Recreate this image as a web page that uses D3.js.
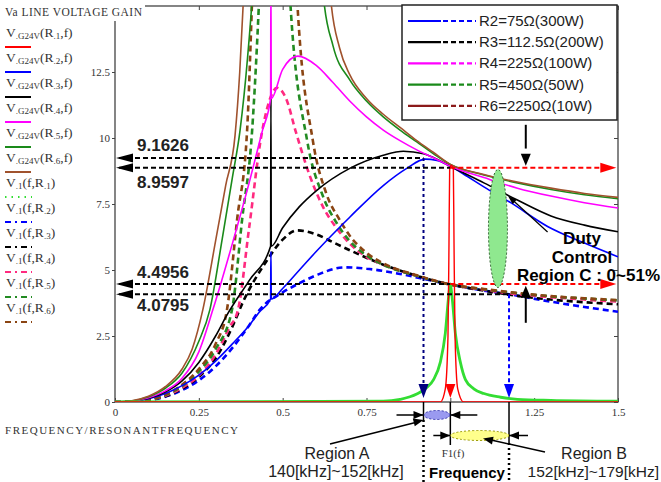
<!DOCTYPE html>
<html>
<head>
<meta charset="utf-8">
<script src="https://cdn.jsdelivr.net/npm/d3@7"></script>
<style>
body { margin: 0; background: #fff; }
svg { display: block; }
</style>
</head>
<body>
<script>
// gain curves: [f / f0, gain]
// solid = V.G24V(R,f), dashed = V.1(f,R)
var r1Solid = [[0,0],[0.97,0],[0.985,0.5],[0.993,2.5],[0.996,6],[0.998,8.8],[1.003,8.96],[1.009,8.8],[1.011,6],[1.014,2.5],[1.022,0.5],[1.04,0],[1.5,0]];
var r1Dashed = [[0,0],[0.8,0.03],[0.85,0.1],[0.9,0.3],[0.93,0.55],[0.95,0.85],[0.97,1.5],[0.985,2.6],[0.995,4.0],[1.0,4.47],[1.005,4.0],[1.015,2.6],[1.03,1.5],[1.045,0.85],[1.07,0.5],[1.1,0.32],[1.15,0.18],[1.2,0.1],[1.3,0.06],[1.5,0.03]];

var r2Solid = [[0,0],[0.05,0.02],[0.1,0.12],[0.15,0.32],[0.2,0.62],[0.25,1.02],[0.3,1.55],[0.35,2.2],[0.4,2.9],[0.43,3.4],[0.464,3.9],[0.465,5.7],[0.466,3.9],[0.5,4.3],[0.55,5.0],[0.6,5.7],[0.7,7.0],[0.8,8.2],[0.87,8.85],[0.925,9.2],[0.96,9.15],[1.0,8.93],[1.05,8.55],[1.1,8.15],[1.18,7.55],[1.29,6.65],[1.4,6.02],[1.5,5.5]];
var r3Solid = [[0,0],[0.05,0.02],[0.1,0.14],[0.15,0.38],[0.2,0.8],[0.25,1.5],[0.3,2.5],[0.334,3.3],[0.4,4.6],[0.464,5.9],[0.465,11.5],[0.466,5.9],[0.5,6.6],[0.55,7.4],[0.6,8.0],[0.7,8.85],[0.8,9.35],[0.86,9.5],[0.92,9.4],[0.96,9.2],[1.0,8.93],[1.1,8.3],[1.2,7.65],[1.3,7.05],[1.4,6.7],[1.5,6.45]];
var r4Solid = [[0,0],[0.05,0.03],[0.1,0.16],[0.15,0.42],[0.2,0.9],[0.25,1.9],[0.292,3.5],[0.35,6.0],[0.4,8.3],[0.44,10.3],[0.464,11.5],[0.465,16],[0.466,11.5],[0.5,12.6],[0.545,13.1],[0.6,12.75],[0.65,12.1],[0.7,11.4],[0.75,10.8],[0.8,10.3],[0.85,9.9],[0.9,9.55],[0.95,9.25],[1.0,8.93],[1.1,8.5],[1.2,8.1],[1.3,7.8],[1.4,7.55],[1.5,7.35]];
var r5Solid = [[0,0],[0.05,0.04],[0.1,0.2],[0.15,0.52],[0.2,1.1],[0.25,2.3],[0.283,3.5],[0.32,6.2],[0.35,8.5],[0.373,10.3],[0.395,13],[0.41,15.5],[0.47,40],[0.57,40],[0.622,15.3],[0.65,13.5],[0.7,12.2],[0.75,11.4],[0.8,10.8],[0.85,10.3],[0.9,9.85],[0.95,9.4],[1.0,9.0],[1.1,8.6],[1.2,8.3],[1.3,8.05],[1.4,7.85],[1.5,7.7]];
var r6Solid = [[0,0],[0.05,0.05],[0.1,0.22],[0.15,0.58],[0.2,1.25],[0.23,2.0],[0.262,3.5],[0.3,6.1],[0.33,8.2],[0.358,10.1],[0.372,12.5],[0.384,15.5],[0.45,40],[0.58,40],[0.643,15.3],[0.67,13.4],[0.7,12.4],[0.75,11.5],[0.8,10.9],[0.85,10.4],[0.9,9.9],[0.95,9.45],[1.0,9.0],[1.1,8.62],[1.2,8.33],[1.3,8.1],[1.4,7.9],[1.5,7.75]];

var r2Dashed = [[0,0],[0.05,0.01],[0.1,0.06],[0.15,0.2],[0.2,0.45],[0.25,0.82],[0.3,1.35],[0.35,2.05],[0.4,2.9],[0.432,3.5],[0.5,4.15],[0.55,4.5],[0.6,4.8],[0.686,5.1],[0.75,5.05],[0.85,4.85],[0.95,4.58],[1.0,4.45],[1.1,4.22],[1.175,4.08],[1.3,3.8],[1.4,3.6],[1.5,3.42]];
var r3Dashed = [[0,0],[0.05,0.01],[0.1,0.07],[0.15,0.22],[0.2,0.5],[0.25,0.95],[0.3,1.65],[0.35,2.85],[0.382,3.8],[0.45,5.3],[0.5,6.15],[0.543,6.5],[0.6,6.35],[0.65,6.05],[0.7,5.75],[0.8,5.2],[0.9,4.78],[1.0,4.45],[1.1,4.22],[1.2,4.02],[1.3,3.88],[1.4,3.78],[1.5,3.7]];
var r4Dashed = [[0,0],[0.05,0.01],[0.1,0.07],[0.15,0.24],[0.2,0.54],[0.25,1.0],[0.3,1.8],[0.34,2.8],[0.367,3.5],[0.4,6.6],[0.438,10.2],[0.46,11.4],[0.483,11.9],[0.51,11.5],[0.54,10.2],[0.58,8.6],[0.62,7.4],[0.66,6.6],[0.7,6.0],[0.75,5.5],[0.8,5.2],[0.9,4.78],[1.0,4.45],[1.1,4.25],[1.2,4.08],[1.3,3.97],[1.4,3.88],[1.5,3.8]];
var r5Dashed = [[0,0],[0.05,0.01],[0.1,0.08],[0.15,0.26],[0.2,0.6],[0.25,1.15],[0.3,2.0],[0.349,3.5],[0.379,6.9],[0.409,10.3],[0.43,15.3],[0.47,30],[0.5,30],[0.522,15.3],[0.573,9.9],[0.62,7.8],[0.66,6.8],[0.7,6.1],[0.75,5.55],[0.8,5.2],[0.9,4.78],[1.0,4.45],[1.1,4.27],[1.2,4.12],[1.3,4.0],[1.4,3.92],[1.5,3.85]];
var r6Dashed = [[0,0],[0.05,0.01],[0.1,0.09],[0.15,0.28],[0.2,0.65],[0.25,1.25],[0.3,2.2],[0.334,3.5],[0.364,6.9],[0.394,10.3],[0.409,15.3],[0.46,40],[0.49,40],[0.543,15.3],[0.59,9.9],[0.63,7.9],[0.67,6.9],[0.7,6.3],[0.75,5.65],[0.8,5.25],[0.9,4.8],[1.0,4.45],[1.1,4.28],[1.2,4.13],[1.3,4.01],[1.4,3.93],[1.5,3.86]];

// tick labels
var xTicks = [0, 0.25, 0.5, 0.75, 1, 1.25, 1.5];
var yTicks = [0, 2.5, 5, 7.5, 10, 12.5];

// legend entries
var loadNames = ["R2=75\u03A9(300W)", "R3=112.5\u03A9(200W)", "R4=225\u03A9(100W)", "R5=450\u03A9(50W)", "R6=2250\u03A9(10W)"];
var loadColors = ["#0000ff", "#000000", "#ff00ff", "#1a8a1a", "#8b1a1a"];

// marked levels (labels, and the level where the picture draws them)
var levelLabels = ["9.1626", "8.9597", "4.4956", "4.0795"];
var levelGain = [9.24, 8.87, 4.47, 4.08];
var fA = 0.92, fRes = 1.0, fB = 1.175, fDuty = 1.225;

var serif = "'Liberation Serif', 'Times New Roman', serif";
var sans = "'Liberation Sans', Arial, sans-serif";

var svg = d3.select("body").append("svg")
  .attr("width", 661)
  .attr("height", 482);
svg.append("rect").attr("width", 661).attr("height", 482).attr("fill", "#fff");

var x = d3.scaleLinear().domain([0, 1.5]).range([115, 618]);
var y = d3.scaleLinear().domain([0, 15]).range([402, 6]);

svg.append("clipPath").attr("id", "plotclip").append("rect")
  .attr("x", x(0)).attr("y", y(15))
  .attr("width", x(1.5) - x(0)).attr("height", y(0) - y(15));

// frame
svg.append("rect")
  .attr("x", x(0)).attr("y", y(15))
  .attr("width", x(1.5) - x(0)).attr("height", y(0) - y(15))
  .attr("fill", "none").attr("stroke", "#444").attr("stroke-width", 1.3);

// axes
svg.append("g").attr("transform", "translate(0," + y(0) + ")")
  .call(d3.axisBottom(x).tickValues(xTicks).tickSize(-4).tickPadding(6)
    .tickFormat(function(d) { return d === 1 ? "" : String(d); }));
svg.append("g").attr("transform", "translate(" + x(0) + ",0)")
  .call(d3.axisLeft(y).tickValues(yTicks).tickSize(3).tickPadding(2)
    .tickFormat(function(d) { return String(d); }));
svg.append("g").attr("transform", "translate(0," + y(15) + ")")
  .call(d3.axisTop(x).tickValues(xTicks).tickSize(-4).tickFormat(""));
svg.append("g").attr("transform", "translate(" + x(1.5) + ",0)")
  .call(d3.axisRight(y).tickValues(yTicks).tickSize(-4).tickFormat(""));
svg.selectAll(".domain").remove();
svg.selectAll(".tick line").attr("stroke", "#444");
svg.selectAll(".tick text").attr("font-family", serif).attr("font-size", 11).attr("fill", "#333");

// curves
var line = d3.line()
  .x(function(d) { return x(d[0]); })
  .y(function(d) { return y(d[1]); })
  .curve(d3.curveMonotoneX);

var plot = svg.append("g").attr("clip-path", "url(#plotclip)");

var series = [
  {data: r2Dashed, color: "#0000ff", w: 2.6, dash: "6,4"},
  {data: r3Dashed, color: "#000000", w: 2.6, dash: "6,4"},
  {data: r4Dashed, color: "#ff2a7f", w: 2.6, dash: "6,4"},
  {data: r5Dashed, color: "#228b22", w: 2.6, dash: "6,4"},
  {data: r6Dashed, color: "#8b4513", w: 2.6, dash: "6,4"},
  {data: r2Solid, color: "#0000ff", w: 1.6},
  {data: r3Solid, color: "#000000", w: 1.6},
  {data: r4Solid, color: "#ff00ff", w: 1.6},
  {data: r5Solid, color: "#1a8a1a", w: 1.6},
  {data: r6Solid, color: "#a0522d", w: 1.6},
  {data: r1Dashed, color: "#33dd33", w: 2.8},
  {data: r1Solid, color: "#ff0000", w: 1.4}
];

plot.selectAll("path.curve")
  .data(series)
  .enter()
  .append("path")
  .attr("class", "curve")
  .attr("d", function(d) { return line(d.data); })
  .attr("fill", "none")
  .attr("stroke", function(d) { return d.color; })
  .attr("stroke-width", function(d) { return d.w; })
  .attr("stroke-dasharray", function(d) { return d.dash || null; });

// arrow head helper
function head(g, tx, ty, dir, color, len, half) {
  len = len || 12; half = half || 5;
  var p;
  if (dir == "left") p = [[tx, ty], [tx + len, ty - half], [tx + len, ty + half]];
  if (dir == "right") p = [[tx, ty], [tx - len, ty - half], [tx - len, ty + half]];
  if (dir == "down") p = [[tx, ty], [tx - half, ty - len], [tx + half, ty - len]];
  if (dir == "up") p = [[tx, ty], [tx - half, ty + len], [tx + half, ty + len]];
  return g.append("path").attr("d", "M" + p.join("L") + "Z").attr("fill", color);
}

var ann = svg.append("g");

// horizontal level lines
var levelEnd = [fA, fRes, fRes, fB];
levelGain.forEach(function(v, i) {
  ann.append("line")
    .attr("x1", x(0) + 4).attr("x2", x(levelEnd[i]))
    .attr("y1", y(v)).attr("y2", y(v))
    .attr("stroke", "#000").attr("stroke-width", 2).attr("stroke-dasharray", "5,3");
  head(ann, x(0) + 1, y(v), "left", "#000", 17, 4.5);
});
[1, 2].forEach(function(i) {
  ann.append("line")
    .attr("x1", x(fRes)).attr("x2", x(1.45))
    .attr("y1", y(levelGain[i])).attr("y2", y(levelGain[i]))
    .attr("stroke", "#ff0000").attr("stroke-width", 2).attr("stroke-dasharray", "5,3");
  head(ann, x(1.495), y(levelGain[i]), "right", "#ff0000", 16, 5);
});
var labelDy = [-7, 20, -6, 17];
levelLabels.forEach(function(t, i) {
  ann.append("text")
    .attr("x", 137).attr("y", y(levelGain[i]) + labelDy[i])
    .attr("font-family", sans).attr("font-weight", "bold").attr("font-size", 17)
    .attr("fill", "#222").text(t);
});

// vertical frequency markers
ann.append("line")
  .attr("x1", x(fA)).attr("x2", x(fA)).attr("y1", y(levelGain[0])).attr("y2", y(0.6))
  .attr("stroke", "#000080").attr("stroke-width", 2).attr("stroke-dasharray", "3,3");
head(ann, x(fA), y(0.15), "down", "#000080", 14, 5);
head(ann, x(fRes), y(0.15), "down", "#ff0000", 14, 5);
ann.append("line")
  .attr("x1", x(fB)).attr("x2", x(fB)).attr("y1", y(levelGain[3])).attr("y2", y(0.6))
  .attr("stroke", "#0000ff").attr("stroke-width", 2).attr("stroke-dasharray", "4,3");
head(ann, x(fB), y(0.15), "down", "#0000ff", 14, 5);

// duty control arrows
ann.append("line").attr("x1", x(fDuty)).attr("x2", x(fDuty))
  .attr("y1", y(10.5)).attr("y2", y(9.6)).attr("stroke", "#000").attr("stroke-width", 2);
head(ann, x(fDuty), y(8.95), "down", "#000", 12, 5);
ann.append("line").attr("x1", x(fDuty)).attr("x2", x(fDuty))
  .attr("y1", y(3.0)).attr("y2", y(4.0)).attr("stroke", "#000").attr("stroke-width", 2);
head(ann, x(fDuty), y(4.4), "up", "#000", 12, 5);

// duty region ellipse
ann.append("ellipse")
  .attr("cx", x(1.142)).attr("cy", y(6.57)).attr("rx", 9.5).attr("ry", 59)
  .attr("fill", "#8fe88f").attr("stroke", "#225522").attr("stroke-width", 1)
  .attr("stroke-dasharray", "2,2");
ann.append("line")
  .attr("x1", x(1.29)).attr("y1", y(6.44)).attr("x2", x(1.18)).attr("y2", y(7.72))
  .attr("stroke", "#000").attr("stroke-width", 1.2);
head(ann, x(1.172), y(7.8), "left", "#000", 9, 3)
  .attr("transform", "rotate(42," + x(1.172) + "," + y(7.8) + ")");

ann.append("text").attr("x", 582).attr("y", 244).attr("text-anchor", "middle")
  .attr("font-family", sans).attr("font-weight", "bold").attr("font-size", 17).text("Duty");
ann.append("text").attr("x", 582).attr("y", 263).attr("text-anchor", "middle")
  .attr("font-family", sans).attr("font-weight", "bold").attr("font-size", 17).text("Control");
ann.append("text").attr("x", 660).attr("y", 281).attr("text-anchor", "end")
  .attr("font-family", sans).attr("font-weight", "bold").attr("font-size", 17).text("Region C : 0~51%");

// below the axis: frequency regions
var base = y(0);
ann.append("line").attr("x1", x(fA)).attr("x2", x(fA)).attr("y1", base).attr("y2", base + 18)
  .attr("stroke", "#000").attr("stroke-width", 1.5);
ann.append("line").attr("x1", x(fA)).attr("x2", x(fA)).attr("y1", base + 18).attr("y2", 482)
  .attr("stroke", "#000").attr("stroke-width", 2.5).attr("stroke-dasharray", "2,3");
ann.append("line").attr("x1", x(fRes)).attr("x2", x(fRes)).attr("y1", base).attr("y2", base + 43)
  .attr("stroke", "#000").attr("stroke-width", 1.5);
ann.append("line").attr("x1", x(fB)).attr("x2", x(fB)).attr("y1", base).attr("y2", base + 41)
  .attr("stroke", "#000").attr("stroke-width", 1.5);
ann.append("line").attr("x1", x(fB)).attr("x2", x(fB)).attr("y1", base + 41).attr("y2", 482)
  .attr("stroke", "#000").attr("stroke-width", 2.5).attr("stroke-dasharray", "2,3");

ann.append("ellipse")
  .attr("cx", (x(fA) + x(fRes)) / 2).attr("cy", base + 13).attr("rx", 13).attr("ry", 4.5)
  .attr("fill", "#9a9af0").attr("stroke", "#3333aa").attr("stroke-dasharray", "2,2");
ann.append("ellipse")
  .attr("cx", (x(fRes) + x(fB)) / 2).attr("cy", base + 33.5).attr("rx", (x(fB) - x(fRes)) / 2).attr("ry", 5)
  .attr("fill", "#ffff8c").attr("stroke", "#999900").attr("stroke-dasharray", "2,2");

function hArrow(x1, x2, yy) {
  ann.append("line").attr("x1", x1).attr("x2", x2).attr("y1", yy).attr("y2", yy)
    .attr("stroke", "#000").attr("stroke-width", 1.5);
  head(ann, x2, yy, x2 > x1 ? "right" : "left", "#000", 10, 4);
}
hArrow(x(fA) - 27, x(fA), base + 13);
hArrow(x(fRes) + 27, x(fRes), base + 13);
hArrow(x(fRes) - 17, x(fRes), base + 33.5);
hArrow(x(fB) + 19, x(fB), base + 33.5);

// pointers from region labels
ann.append("line").attr("x1", 330).attr("y1", base + 42).attr("x2", x(fA) - 6).attr("y2", base + 20)
  .attr("stroke", "#000").attr("stroke-width", 1.5);
head(ann, x(fA), base + 18, "right", "#000", 10, 4)
  .attr("transform", "rotate(-14," + x(fA) + "," + (base + 18) + ")");
ann.append("line").attr("x1", 545).attr("y1", base + 50).attr("x2", 491).attr("y2", base + 38)
  .attr("stroke", "#000").attr("stroke-width", 1.5);
head(ann, 483, base + 36.5, "left", "#000", 10, 4)
  .attr("transform", "rotate(12,483," + (base + 36.5) + ")");

ann.append("text").attr("x", 337).attr("y", 459).attr("text-anchor", "middle")
  .attr("font-family", sans).attr("font-size", 16).attr("fill", "#222").text("Region A");
ann.append("text").attr("x", 336).attr("y", 477).attr("text-anchor", "middle")
  .attr("font-family", sans).attr("font-size", 16).attr("fill", "#222").text("140[kHz]~152[kHz]");
ann.append("text").attr("x", 594).attr("y", 459).attr("text-anchor", "middle")
  .attr("font-family", sans).attr("font-size", 16).attr("fill", "#222").text("Region B");
ann.append("text").attr("x", 659).attr("y", 477).attr("text-anchor", "end")
  .attr("font-family", sans).attr("font-size", 15.5).attr("fill", "#222").text("152[kHz]~179[kHz]");
ann.append("text").attr("x", 453).attr("y", 457).attr("text-anchor", "middle")
  .attr("font-family", serif).attr("font-size", 11).attr("fill", "#333").text("F1(f)");
ann.append("text").attr("x", 467).attr("y", 478).attr("text-anchor", "middle")
  .attr("font-family", sans).attr("font-weight", "bold").attr("font-size", 15).text("Frequency");

// axis title and plot title
svg.append("text").attr("x", 5).attr("y", 434)
  .attr("font-family", serif).attr("font-size", 11).attr("fill", "#333")
  .attr("textLength", 233).text("FREQUENCY/RESONANTFREQUENCY");
svg.append("rect").attr("x", 0).attr("y", 0).attr("width", 145).attr("height", 21).attr("fill", "#fff");
svg.append("text").attr("x", 5).attr("y", 16)
  .attr("font-family", serif).attr("font-size", 11.5).attr("fill", "#333")
  .attr("textLength", 137).text("Va LINE VOLTAGE GAIN");

// trace legend on the left
var traceColors = ["#ff0000", "#0000ff", "#000000", "#ff00ff", "#1a8a1a", "#a0522d"];
var traceDashColors = ["#33dd33", "#0000ff", "#000000", "#ff2a7f", "#228b22", "#8b4513"];
var leg = svg.append("g");
function mathText(yy, parts) {
  var t = leg.append("text").attr("x", 6).attr("y", yy)
    .attr("font-family", serif).attr("fill", "#333");
  var shift = 0;
  parts.forEach(function(p) {
    var sub = p[1];
    var dy = sub ? 2 - shift : -shift;
    shift = sub ? 2 : 0;
    t.append("tspan").attr("font-size", sub ? 9 : 13.5).attr("dy", dy).text(p[0]);
  });
}
for (var i = 0; i < 12; i++) {
  var k = (i % 6) + 1;
  var ty = 37 + 25 * i;
  if (i < 6) {
    mathText(ty, [["V", 0], [".G24V", 1], ["(R", 0], ["." + k, 1], [",f)", 0]]);
    leg.append("line").attr("x1", 5).attr("x2", 31).attr("y1", ty + 10).attr("y2", ty + 10)
      .attr("stroke", traceColors[i]).attr("stroke-width", 2);
  } else {
    mathText(ty, [["V", 0], [".1", 1], ["(f,R", 0], ["." + k, 1], [")", 0]]);
    leg.append("line").attr("x1", 5).attr("x2", 32).attr("y1", ty + 10).attr("y2", ty + 10)
      .attr("stroke", traceDashColors[i - 6]).attr("stroke-width", 2)
      .attr("stroke-dasharray", i == 6 ? "1.5,5" : "6,4,2,4");
  }
}

// load legend box
var box = svg.append("g").attr("transform", "translate(402,5)");
box.append("rect").attr("width", 215).attr("height", 115)
  .attr("fill", "#fff").attr("stroke", "#222").attr("stroke-width", 1.5);
loadNames.forEach(function(name, i) {
  var ly = 16 + 21.2 * i;
  box.append("line").attr("x1", 6).attr("x2", 39).attr("y1", ly).attr("y2", ly)
    .attr("stroke", loadColors[i]).attr("stroke-width", 2.2);
  box.append("line").attr("x1", 41).attr("x2", 74).attr("y1", ly).attr("y2", ly)
    .attr("stroke", loadColors[i]).attr("stroke-width", 2.2).attr("stroke-dasharray", "5,3");
  box.append("text").attr("x", 77).attr("y", ly + 5)
    .attr("font-family", sans).attr("font-size", 15).attr("fill", "#222").text(name);
});
</script>
</body>
</html>
